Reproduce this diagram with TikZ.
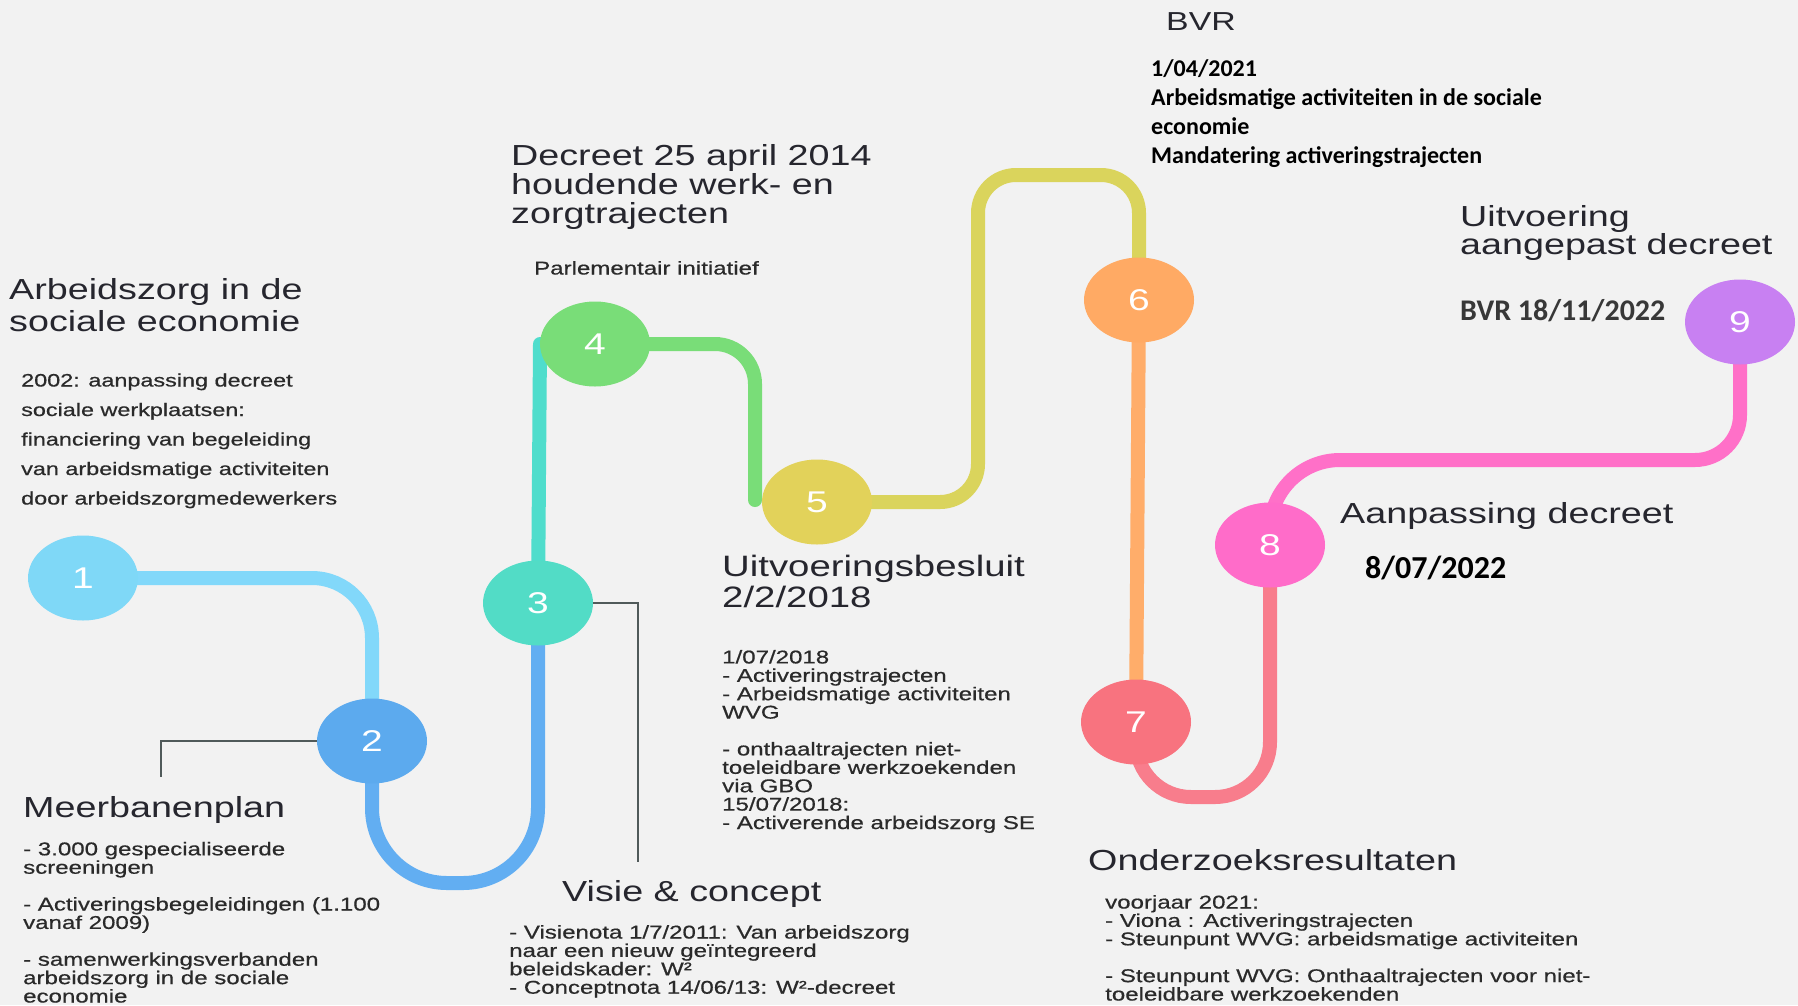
\documentclass[tikz,border=0pt]{standalone}
\usepackage{fontspec}
\setmainfont{Liberation Sans}
\newfontfamily\hf[FakeStretch=1.3]{Liberation Sans}
\newfontfamily\bft[FakeStretch=1.3,FakeBold=0.6]{Liberation Sans}
\newfontfamily\cb{Carlito}
\usetikzlibrary{shapes.geometric}
\definecolor{bg}{HTML}{F2F2F2}
\definecolor{headc}{HTML}{26262E}
\definecolor{bodyc}{HTML}{2A2A2A}
\definecolor{leadc}{HTML}{505A5A}
\definecolor{cA}{HTML}{7FD8F7}
\definecolor{cB}{HTML}{5CAAEE}
\definecolor{cC}{HTML}{52DCC6}
\definecolor{cD}{HTML}{79DD78}
\definecolor{cE}{HTML}{E2D25A}
\definecolor{cF}{HTML}{FFAA64}
\definecolor{cG}{HTML}{F8737F}
\definecolor{cH}{HTML}{FF6CC9}
\definecolor{cI}{HTML}{C880F2}
\definecolor{pA}{HTML}{82D8FA}
\definecolor{pB}{HTML}{62AEF2}
\definecolor{pC}{HTML}{4FDDCC}
\definecolor{pD}{HTML}{79DD78}
\definecolor{pE}{HTML}{DAD45C}
\definecolor{pF}{HTML}{FFAD6A}
\definecolor{pG}{HTML}{F87D8C}
\definecolor{pH}{HTML}{FF70C8}
\tikzset{
  pipe/.style={line width=14pt},
  leadline/.style={draw=leadc, line width=2.5pt},
  dot/.style={ellipse, minimum width=110pt, minimum height=85pt, inner sep=0pt,
    text=white, font=\hf\fontsize{30}{30}\selectfont},
  head/.style={anchor=base west, inner sep=0pt, align=left, text=headc},
  bodytxt/.style={anchor=base west, inner sep=0pt, align=left, text=bodyc,
    font=\bft\fontsize{18.5}{18.4}\selectfont},
  calb/.style={anchor=base west, inner sep=0pt, align=left, text=black}
}
\begin{document}
\begin{tikzpicture}[x=1pt, y=-1pt]
\fill[bg] (0,0) rectangle (1798,1005);
\useasboundingbox (0,0) rectangle (1798,1005);

% circle positions
\coordinate (q1) at (83,578);
\coordinate (q2) at (372,741);
\coordinate (q3) at (538,603);
\coordinate (q4) at (595,344);
\coordinate (q5) at (817,502);
\coordinate (q6) at (1139,300);
\coordinate (q7) at (1136,722);
\coordinate (q8) at (1270,545);
\coordinate (q9) at (1740,322);

% auxiliary points
\coordinate (b23) at (455,883);
\coordinate (g5) at (755,500);
\coordinate (y1) at (978,175);
\coordinate (s78) at (1200,797);
\coordinate (p89) at (1500,460);
\coordinate (m2) at (161,777);
\coordinate (m3) at (638,862);

% pipes
\draw[pipe, pA, rounded corners=60pt] (q1) -| (q2);
\draw[pipe, pB, rounded corners=75pt] (q2) -- (q2 |- b23) -- (q3 |- b23) -- (q3);
\draw[pipe, pC, line cap=round] (q3) -- (540,344);
\draw[pipe, pD, rounded corners=40pt, line cap=round] (q4) -| (g5);
\draw[pipe, pE, rounded corners=38pt] (q5) -- (q5 -| y1) -- (y1) -- (y1 -| q6) -- (q6);
\draw[pipe, pF] (q6) -- (q7);
\draw[pipe, pG, rounded corners=55pt] (q7) -- (q7 |- s78) -- (q8 |- s78) -- (q8);
\draw[pipe, pH, rounded corners=70pt] (q8) -- (q8 |- p89) [rounded corners=45pt] -- (q9 |- p89) -- (q9);

% circles
\node[dot, fill=cA] (n1) at (q1) {1};
\node[dot, fill=cB] (n2) at (q2) {2};
\node[dot, fill=cC] (n3) at (q3) {3};
\node[dot, fill=cD] (n4) at (q4) {4};
\node[dot, fill=cE] (n5) at (q5) {5};
\node[dot, fill=cF] (n6) at (q6) {6};
\node[dot, fill=cG] (n7) at (q7) {7};
\node[dot, fill=cH] (n8) at (q8) {8};
\node[dot, fill=cI] (n9) at (q9) {9};

% lead lines
\draw[leadline] (n2.west) -| (m2);
\draw[leadline] (n3.east) -| (m3);

% texts (anchor = baseline of the last line)
\node[head, font=\hf\fontsize{29}{32}\selectfont] (t1) at (9,331)
  {Arbeidszorg in de\\sociale economie};
\node[bodytxt, font=\bft\fontsize{18}{29.5}\selectfont] (b1) at (21,504.5)
  {2002: aanpassing decreet\\sociale werkplaatsen:\\financiering van begeleiding\\van arbeidsmatige activiteiten\\door arbeidszorgmedewerkers};

\node[head, font=\hf\fontsize{29}{32}\selectfont] (t2) at (23,817) {Meerbanenplan};
\node[bodytxt] (b2) at (23,1002.5)
  {- 3.000 gespecialiseerde\\screeningen\\[18.4pt]- Activeringsbegeleidingen (1.100\\vanaf 2009)\\[18.4pt]- samenwerkingsverbanden\\arbeidszorg in de sociale\\economie};

\node[head, font=\hf\fontsize{29}{29}\selectfont] (t4) at (511,223)
  {Decreet 25 april 2014\\houdende werk- en\\zorgtrajecten};
\node[bodytxt] (b4) at (534,274.5) {Parlementair initiatief};

\node[head, font=\hf\fontsize{29.5}{31}\selectfont] (t5) at (722,607)
  {Uitvoeringsbesluit\\2/2/2018};
\node[bodytxt] (b5) at (722,829)
  {1/07/2018\\- Activeringstrajecten\\- Arbeidsmatige activiteiten\\WVG\\[18.4pt]- onthaaltrajecten niet-\\toeleidbare werkzoekenden\\via GBO\\15/07/2018:\\- Activerende arbeidszorg SE};

\node[head, font=\hf\fontsize{29}{32}\selectfont] (t3) at (562,901) {Visie \& concept};
\node[bodytxt] (b3) at (509,993.7)
  {- Visienota 1/7/2011: Van arbeidszorg\\naar een nieuw geïntegreerd\\beleidskader: W²\\- Conceptnota 14/06/13: W²-decreet};

\node[head, font=\hf\fontsize{26}{28}\selectfont] (t6) at (1166,30) {BVR};
\node[calb, font=\cb\bfseries\fontsize{24}{28.7}\selectfont] (b6) at (1151,163)
  {1/04/2021\\Arbeidsmatige activiteiten in de sociale\\economie\\Mandatering activeringstrajecten};

\node[head, font=\hf\fontsize{29}{28.5}\selectfont] (t9) at (1460,254.5)
  {Uitvoering\\aangepast decreet};
\node[calb, text=black!78, font=\cb\bfseries\fontsize{30}{30}\selectfont] (b9) at (1460,320) {BVR 18/11/2022};

\node[head, font=\hf\fontsize{29}{32}\selectfont] (t8) at (1340,523) {Aanpassing decreet};
\node[calb, font=\cb\bfseries\fontsize{32}{32}\selectfont] (b8) at (1365,578) {8/07/2022};

\node[head, font=\hf\fontsize{29}{32}\selectfont] (t7) at (1088,870) {Onderzoeksresultaten};
\node[bodytxt] (b7) at (1105,1000.5)
  {voorjaar 2021:\\- Viona : Activeringstrajecten\\- Steunpunt WVG: arbeidsmatige activiteiten\\[18.4pt]- Steunpunt WVG: Onthaaltrajecten voor niet-\\toeleidbare werkzoekenden};
\end{tikzpicture}
\end{document}
